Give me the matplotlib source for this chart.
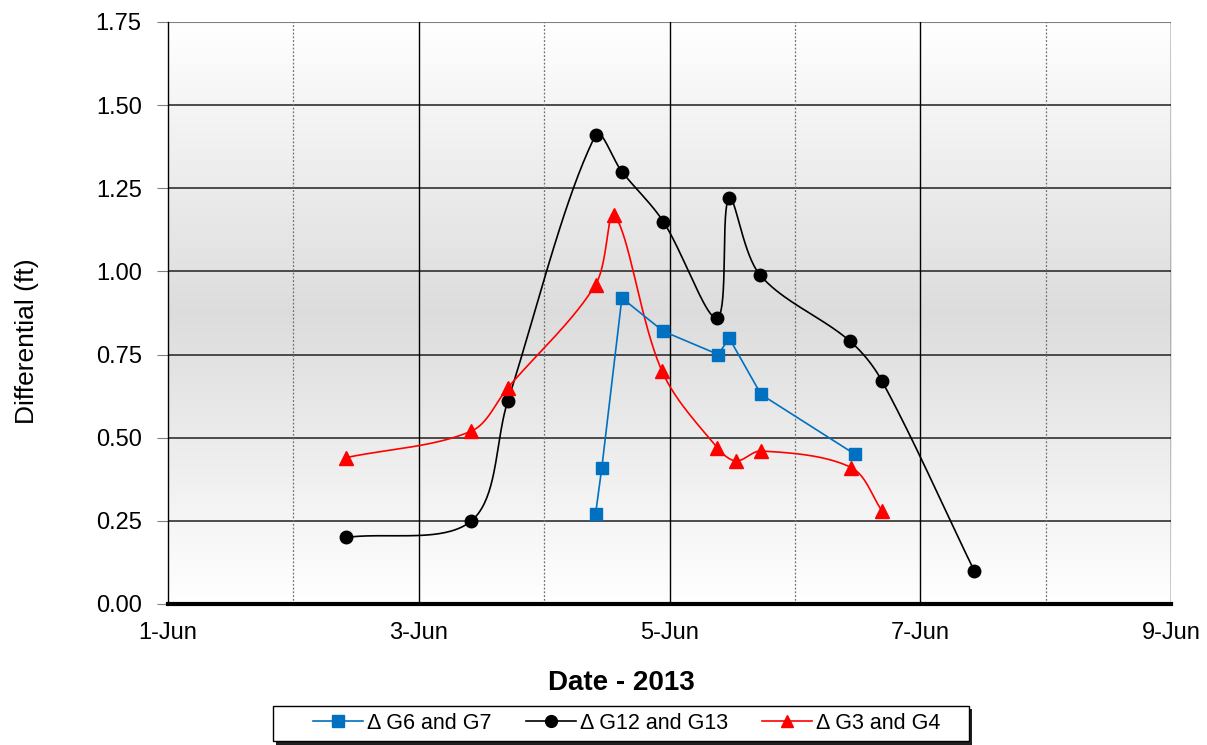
import numpy as np
import matplotlib
matplotlib.use('Agg')
import matplotlib.pyplot as plt
from matplotlib.lines import Line2D
from matplotlib.patches import Rectangle

# Datos (día de junio 2013, diferencial en pies)
dias_g6_g7 = [4.41, 4.46, 4.62, 4.95, 5.39, 5.475, 5.73, 6.48]
dif_g6_g7 = [0.27, 0.41, 0.92, 0.82, 0.75, 0.80, 0.63, 0.45]

dias_g12_g13 = [2.42, 3.42, 3.71, 4.41, 4.62, 4.95, 5.38, 5.475, 5.72, 6.44, 6.695, 7.43]
dif_g12_g13 = [0.20, 0.25, 0.61, 1.41, 1.30, 1.15, 0.86, 1.22, 0.99, 0.79, 0.67, 0.10]

dias_g3_g4 = [2.42, 3.42, 3.71, 4.41, 4.56, 4.94, 5.38, 5.53, 5.73, 6.45, 6.695]
dif_g3_g4 = [0.44, 0.52, 0.65, 0.96, 1.17, 0.70, 0.47, 0.43, 0.46, 0.41, 0.28]

etiquetas = ['Δ G6 and G7', 'Δ G12 and G13', 'Δ G3 and G4']
ticks_x = [1, 3, 5, 7, 9]
ticks_x_menor = [2, 4, 6, 8]
ticks_y = [0.0, 0.25, 0.5, 0.75, 1.0, 1.25, 1.5, 1.75]

xmin, xmax, ymin, ymax = 1, 9, 0, 1.75
ancho_px, alto_px = 1003, 582


# Línea suavizada tipo Excel: Bezier con tangentes proporcionales al tramo
def suavizar(x, y, n=40, k=1 / 3):
    px = (np.asarray(x) - xmin) / (xmax - xmin) * ancho_px
    py = (np.asarray(y) - ymin) / (ymax - ymin) * alto_px
    pts = np.column_stack([px, py])
    ext = np.vstack([pts[0], pts, pts[-1]])
    t = np.linspace(0, 1, n)[:, None]
    out = []
    for i in range(len(pts) - 1):
        p0, p1, p2, p3 = ext[i], ext[i + 1], ext[i + 2], ext[i + 3]
        d01 = np.hypot(*(p1 - p0))
        d12 = np.hypot(*(p2 - p1))
        d23 = np.hypot(*(p3 - p2))
        c1 = p1 + (p2 - p0) * d12 / (d01 + d12) * k
        c2 = p2 - (p3 - p1) * d12 / (d12 + d23) * k
        seg = ((1 - t) ** 3) * p1 + 3 * ((1 - t) ** 2) * t * c1 + 3 * (1 - t) * t ** 2 * c2 + t ** 3 * p2
        out.append(seg if i == 0 else seg[1:])
    out = np.vstack(out)
    return out[:, 0] / ancho_px * (xmax - xmin) + xmin, out[:, 1] / alto_px * (ymax - ymin) + ymin


plt.rcParams['font.family'] = ['Liberation Sans', 'DejaVu Sans']

fig = plt.figure(figsize=(12.07, 7.45), dpi=100)
ax = fig.add_axes([0.1392, 0.1893, 0.8310, 0.7812])

# Fondo degradado
f = np.linspace(0, 1, 256)
g = np.interp(f, [0, 0.5, 1.0], [1.0, 0.865, 1.0])
ax.imshow(np.dstack([g, g, g]).reshape(256, 1, 3), extent=[xmin, xmax, ymin, ymax],
          origin='lower', aspect='auto', zorder=0)

# Rejilla
for yv in ticks_y[1:-1]:
    ax.axhline(yv, color='#303030', lw=1.2, zorder=1)
ax.axhline(ymax, color='#808080', lw=1.5, zorder=1)
for xv in ticks_x[1:]:
    ax.axvline(xv, color='black', lw=1.0, zorder=1)
for xv in ticks_x_menor:
    ax.axvline(xv, color='#707070', lw=0.9, ls=(0, (1.5, 1.5)), zorder=1)

# Series
azul = '#0070C0'
ax.plot(dias_g6_g7, dif_g6_g7, color=azul, lw=1.2, marker='s', ms=8.5, zorder=4)

sx, sy = suavizar(dias_g12_g13, dif_g12_g13)
ax.plot(sx, sy, color='black', lw=1.2, zorder=3)
ax.plot(dias_g12_g13, dif_g12_g13, ls='none', marker='o', color='black', ms=9, zorder=3)

sx, sy = suavizar(dias_g3_g4, dif_g3_g4)
ax.plot(sx, sy, color='red', lw=1.2, zorder=3)
ax.plot(dias_g3_g4, dif_g3_g4, ls='none', marker='^', color='red', ms=9.5, zorder=3)

ax.set_xlim(xmin, xmax)
ax.set_ylim(ymin, ymax)
ax.set_xticks(ticks_x)
ax.set_xticklabels([f'{d}-Jun' for d in ticks_x])
ax.set_yticks(ticks_y)
ax.set_yticklabels([f'{v:.2f}' for v in ticks_y])
ax.tick_params(axis='x', length=0, labelsize=17, pad=13)
ax.tick_params(axis='y', length=8, color='#808080', labelsize=17, pad=11)

for s in ['top', 'right']:
    ax.spines[s].set_visible(False)
ax.spines['left'].set_color('black')
ax.spines['left'].set_linewidth(1.0)
ax.spines['bottom'].set_color('black')
ax.spines['bottom'].set_linewidth(3.0)
ax.spines['bottom'].set_zorder(5)

fig.text(621 / 1207, 1 - 683 / 745, 'Date - 2013', fontsize=20, fontweight='bold', ha='center', va='center')
fig.text(27 / 1207, 1 - 341 / 745, 'Differential (ft)', fontsize=19, rotation=90, ha='center', va='center')

# Marco de la leyenda con sombra
fig.patches.append(Rectangle((276 / 1207, 1 - 745 / 745), 696 / 1207, 36 / 745, transform=fig.transFigure,
                             facecolor='#202020', edgecolor='none', zorder=1))
fig.patches.append(Rectangle((273 / 1207, 1 - 741 / 745), 696 / 1207, 35 / 745, transform=fig.transFigure,
                             facecolor='white', edgecolor='black', lw=1.0, zorder=2))

handles = [
    Line2D([], [], color=azul, lw=1.2, marker='s', ms=8.5),
    Line2D([], [], color='black', lw=1.2, marker='o', ms=8.5),
    Line2D([], [], color='red', lw=1.2, marker='^', ms=9),
]
leg = fig.legend(handles, etiquetas, loc='center', bbox_to_anchor=(627 / 1207, 1 - 723.5 / 745), ncol=3,
                 fontsize=15.5, frameon=False, handlelength=2.3, handletextpad=0.2,
                 columnspacing=1.6, borderpad=0.2)
leg.set_zorder(3)

fig.savefig('out.png', dpi=100)
